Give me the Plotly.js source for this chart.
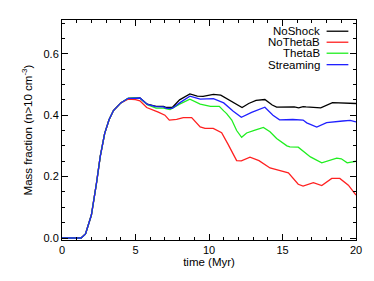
<!DOCTYPE html>
<html>
<head>
<meta charset="utf-8">
<script src="https://cdn.plot.ly/plotly-3.0.1.min.js"></script>
<style>html,body{margin:0;padding:0;background:#fff;}#chart{width:374px;height:281px;}</style>
</head>
<body>
<div id="chart"></div>
<script>
// Shared early rise (all runs identical before ~5 Myr)
const timeEarly = [0, 1.3, 1.6, 2.0, 2.35, 2.6, 2.9, 3.2, 3.5, 4.0, 4.5, 5.0];
const valEarly  = [0, 0, 0.013, 0.075, 0.18, 0.265, 0.34, 0.385, 0.415, 0.44, 0.455, 0.457];

const seriesNames = ["NoShock", "NoThetaB", "ThetaB", "Streaming"];
const seriesColors = ["#000000", "#ff2020", "#20ee20", "#2020ff"];

const tNoShock = [5.3, 5.8, 6.4, 6.9, 7.1, 7.5, 8.0, 8.7, 9.2, 9.6, 10.3, 10.8, 11.2, 11.65, 12.25, 12.7, 13.2, 13.8, 14.3, 14.6, 15.3, 15.8, 16.1, 16.4, 16.6, 17.6, 18.4, 19.1, 20];
const vNoShock = [0.456, 0.436, 0.429, 0.429, 0.425, 0.425, 0.45, 0.469, 0.462, 0.461, 0.468, 0.465, 0.454, 0.44, 0.425, 0.438, 0.448, 0.451, 0.433, 0.426, 0.428, 0.427, 0.424, 0.428, 0.427, 0.424, 0.441, 0.44, 0.438];

const tNoThetaB = [5.3, 5.76, 6.55, 7.0, 7.3, 7.8, 8.25, 8.82, 9.4, 9.73, 10.29, 10.86, 11.3, 11.88, 12.2, 12.79, 13.4, 14.15, 14.9, 15.4, 16.07, 16.4, 17.1, 17.67, 18.35, 18.9, 19.48, 20];
const vNoThetaB = [0.447, 0.425, 0.41, 0.4, 0.384, 0.386, 0.392, 0.392, 0.362, 0.357, 0.357, 0.343, 0.305, 0.252, 0.251, 0.263, 0.252, 0.228, 0.219, 0.212, 0.175, 0.169, 0.18, 0.171, 0.194, 0.194, 0.172, 0.14];

const tThetaB = [5.3, 5.8, 6.4, 6.9, 7.35, 8.0, 8.7, 9.4, 10.1, 10.7, 11.0, 11.2, 11.55, 11.88, 12.22, 12.56, 13.13, 13.7, 14.15, 14.6, 15.3, 15.5, 16.07, 16.65, 16.9, 17.67, 18.69, 19.0, 19.4, 20];
const vThetaB = [0.455, 0.434, 0.423, 0.423, 0.418, 0.436, 0.452, 0.436, 0.429, 0.429, 0.414, 0.405, 0.384, 0.35, 0.328, 0.342, 0.351, 0.36, 0.346, 0.324, 0.3, 0.297, 0.296, 0.272, 0.264, 0.245, 0.26, 0.258, 0.245, 0.25];

const tStreaming = [5.3, 5.8, 6.4, 6.9, 7.1, 7.5, 8.0, 8.7, 9.4, 10.3, 11.0, 11.65, 12.2, 12.9, 13.8, 14.35, 14.8, 15.7, 16.1, 16.4, 16.65, 17.33, 18.0, 18.3, 19.1, 19.6, 20];
const vStreaming = [0.456, 0.435, 0.428, 0.427, 0.422, 0.422, 0.44, 0.462, 0.452, 0.454, 0.44, 0.413, 0.393, 0.409, 0.426, 0.40, 0.385, 0.386, 0.386, 0.384, 0.375, 0.361, 0.376, 0.378, 0.381, 0.383, 0.378];

const xTickVals = [0, 5, 10, 15, 20];
const yTickVals = [0, 0.2, 0.4, 0.6];

// NoThetaB diverges slightly earlier
const valEarlyRed = valEarly.slice(0, 10).concat([0.452, 0.451]);

const tSeries = [tNoShock, tNoThetaB, tThetaB, tStreaming];
const vSeries = [vNoShock, vNoThetaB, vThetaB, vStreaming];
const earlyVals = [valEarly, valEarlyRed, valEarly, valEarly];

const traces = seriesNames.map((name, i) => ({
  type: "scatter", mode: "lines", name: name,
  x: timeEarly.concat(tSeries[i]),
  y: earlyVals[i].concat(vSeries[i]),
  line: {color: seriesColors[i], width: 1.3},
  showlegend: false
}));
// draw order: black, red, green, blue on top for overlap at start
const FONT = "Liberation Sans, Arial, sans-serif";

const legY = [0.949, 0.899, 0.849, 0.797];
const annotations = seriesNames.map((n, i) => ({
  xref: "paper", yref: "paper", x: 0.883, y: legY[i],
  xanchor: "right", yanchor: "middle", text: n, showarrow: false,
  font: {family: FONT, size: 11.5, color: "#000"}
}));
const shapes = seriesNames.map((n, i) => ({
  type: "line", xref: "paper", yref: "paper",
  x0: 0.900, x1: 0.974, y0: legY[i], y1: legY[i],
  line: {color: seriesColors[i], width: 1.3}
}));

const axisCommon = {
  showline: true, linecolor: "#000", linewidth: 1, mirror: "allticks",
  ticks: "inside", ticklen: 6, tickwidth: 1, tickcolor: "#000",
  showgrid: false, zeroline: false,
  tickfont: {family: FONT, size: 11, color: "#000"}
};

const layout = {
  width: 374, height: 281,
  margin: {l: 62, r: 18, t: 19.5, b: 41},
  paper_bgcolor: "#fff", plot_bgcolor: "#fff",
  showlegend: false,
  xaxis: Object.assign({}, axisCommon, {
    range: [0, 20], tickvals: xTickVals, ticktext: xTickVals.map(String),
    minor: {dtick: 1, ticks: "inside", ticklen: 3, tickcolor: "#000", showgrid: false},
    title: {text: "time (Myr)", font: {family: FONT, size: 11.5, color: "#000"}, standoff: 2}
  }),
  yaxis: Object.assign({}, axisCommon, {
    range: [-0.0065, 0.71], tickvals: yTickVals, ticktext: yTickVals.map(v => v.toFixed(1)),
    minor: {dtick: 0.05, tick0: 0, ticks: "inside", ticklen: 3, tickcolor: "#000", showgrid: false},
    title: {text: "Mass fraction (n&gt;10 cm<sup>-3</sup>)", font: {family: FONT, size: 11.5, color: "#000"}, standoff: 8}
  }),
  annotations: annotations,
  shapes: shapes
};

Plotly.newPlot("chart", traces, layout, {staticPlot: true, displayModeBar: false});
</script>
</body>
</html>
